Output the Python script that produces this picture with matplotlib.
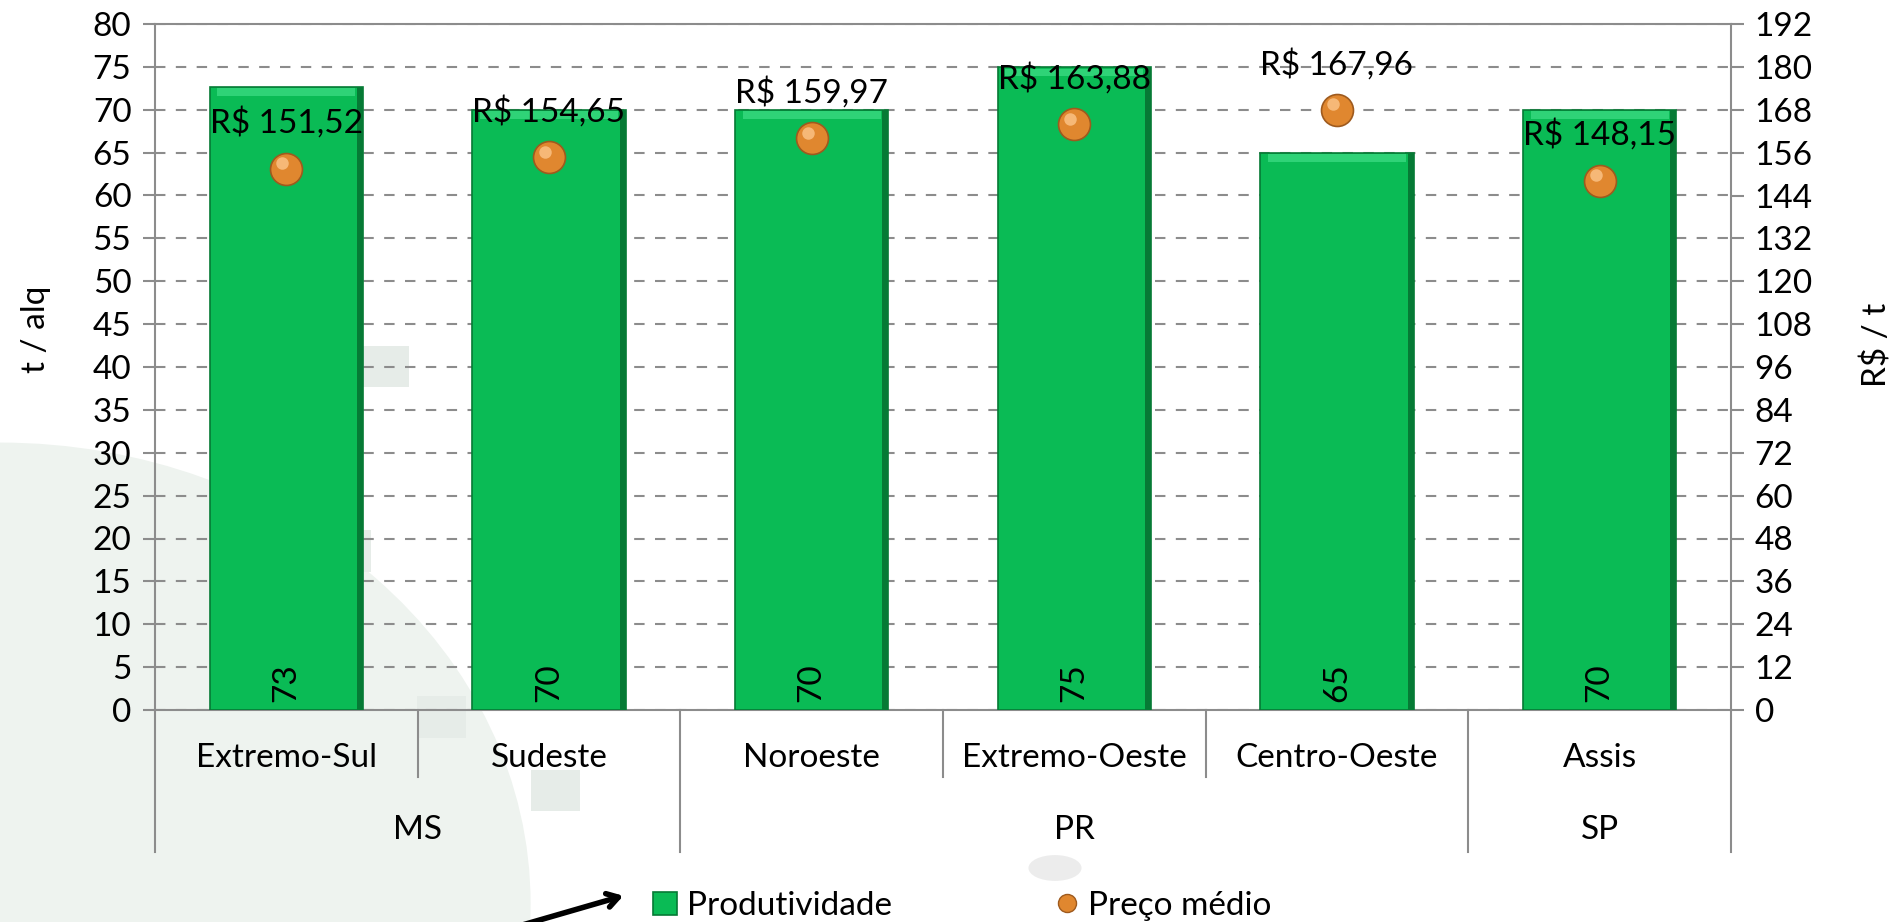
import matplotlib
matplotlib.use('Agg')
import matplotlib.pyplot as plt
from matplotlib.patches import Patch, Ellipse, Rectangle, Circle
from matplotlib.lines import Line2D
import matplotlib.transforms as mtransforms
import numpy as np

plt.rcParams['font.family'] = ['Lato', 'DejaVu Sans']

# --- dados ---
regioes = ['Extremo-Sul', 'Sudeste', 'Noroeste', 'Extremo-Oeste', 'Centro-Oeste', 'Assis']
estados = ['MS', 'PR', 'SP']
estado_inicio = [0, 2, 5]
estado_fim = [2, 5, 6]
produtividade = [72.7, 70, 70, 75, 65, 70]
preco_medio = [151.52, 154.65, 159.97, 163.88, 167.96, 148.15]

VERDE = '#0ABB55'
VERDE_ESC = '#067A35'
LARANJA = '#E0872F'
CINZA = '#8C8C8C'
FS = 24

fig = plt.figure(figsize=(18.95, 9.22), dpi=100)

# marca d'agua de fundo (bem suave)
fig.patches.append(Ellipse((0.0, 0.02), 0.56, 1.0, transform=fig.transFigure,
                           facecolor='#eef3ef', edgecolor='none', zorder=-10))
for (qx, qy) in [(0.12, 0.47), (0.17, 0.38), (0.25, 0.30), (0.28, 0.12),
                 (0.22, 0.20), (0.12, 0.27), (0.19, 0.58)]:
    fig.patches.append(Rectangle((qx, qy), 0.026, 0.045, transform=fig.transFigure,
                                 facecolor='#e6ece8', edgecolor='none', zorder=-9))
fig.patches.append(Circle((1055 / 1895, 1 - 868 / 922), 0.014, transform=fig.transFigure,
                          facecolor='#ececec', edgecolor='none', zorder=-9))

ax = fig.add_axes([155 / 1895, 1 - 710 / 922, (1731 - 155) / 1895, (710 - 24) / 922])
ax.set_facecolor('none')
ax2 = ax.twinx()

x = np.arange(len(regioes))
largura = 0.585

ax.bar(x, produtividade, largura, color=VERDE, edgecolor=VERDE_ESC, linewidth=1.2, zorder=3)
# faixa clara no topo (efeito bisel)
ax.bar(x, [0.9] * len(x), largura * 0.9, bottom=[v - 1.1 for v in produtividade],
       color='#2FD377', edgecolor='none', zorder=4)
# borda direita escura
ax.bar(x + largura / 2 - 0.012, produtividade, 0.024, color=VERDE_ESC, edgecolor='none', zorder=4)

for xi, v in zip(x, produtividade):
    ax.annotate(f"{v:.0f}", (xi, 0), xytext=(0, 6), textcoords='offset points',
                rotation=90, ha='center', va='bottom', fontsize=FS, zorder=6)

ax.set_xlim(-0.5, len(regioes) - 0.5)
ax.set_ylim(0, 80)
ax.set_yticks(np.arange(0, 81, 5))
ax.yaxis.grid(True, color=CINZA, linestyle=(0, (5, 5)), linewidth=1.5, zorder=0)
ax.set_axisbelow(True)
ax.tick_params(axis='y', labelsize=FS, length=9, width=1.5, color=CINZA, pad=8)
ax.set_xticks([])
for s in ['left', 'bottom', 'top', 'right']:
    ax.spines[s].set_color(CINZA)
    ax.spines[s].set_linewidth(1.5)

ax2.set_ylim(0, 192)
ax2.set_yticks(np.arange(0, 193, 12))
ax2.tick_params(axis='y', labelsize=FS, length=9, width=1.5, color=CINZA, pad=8)
for s in ['left', 'bottom', 'top', 'right']:
    ax2.spines[s].set_visible(False)

ax2.plot(x, preco_medio, linestyle='none', marker='o', markersize=23,
         markerfacecolor=LARANJA, markeredgecolor='#9E5A1E', markeredgewidth=1.2, zorder=5)
realce = mtransforms.offset_copy(ax2.transData, fig=fig, x=-3, y=4, units='points')
ax2.plot(x, preco_medio, linestyle='none', marker='o', markersize=9,
         markerfacecolor='#F6B877', markeredgecolor='none', transform=realce, zorder=6)
for xi, p in zip(x, preco_medio):
    rotulo = f"R$ {p:.2f}".replace('.', ',')
    ax2.annotate(rotulo, (xi, p), xytext=(0, 33), textcoords='offset points',
                 ha='center', va='center', fontsize=FS, zorder=7)

# eixo de categorias em dois niveis
trans = mtransforms.blended_transform_factory(ax.transData, ax.transAxes)
y_cat = (710 - 777) / 686
y_est = (710 - 852) / 686
limites_estado = sorted(set(estado_inicio + estado_fim))
for b in range(len(regioes) + 1):
    y_fim = y_est if b in limites_estado else y_cat
    ax.plot([b - 0.5, b - 0.5], [0, y_fim], color=CINZA, lw=1.5, transform=trans, clip_on=False)
for xi, r in zip(x, regioes):
    ax.text(xi, (710 - 758) / 686, r, transform=trans, ha='center', va='center', fontsize=FS)
for e, i0, i1 in zip(estados, estado_inicio, estado_fim):
    ax.text((i0 + i1 - 1) / 2, (710 - 830) / 686, e, transform=trans,
            ha='center', va='center', fontsize=FS)

fig.text(36 / 1895, 1 - 329 / 922, 't / alq', rotation=90, ha='center', va='center', fontsize=FS)
fig.text(1877 / 1895, 1 - 345 / 922, 'R$ / t', rotation=90, ha='center', va='center', fontsize=FS)

handles = [Patch(facecolor=VERDE, edgecolor=VERDE_ESC, linewidth=1.2),
           Line2D([], [], linestyle='none', marker='o', markersize=13,
                  markerfacecolor=LARANJA, markeredgecolor='#9E5A1E')]
fig.legend(handles, ['Produtividade', 'Preço médio'], loc='center',
           bbox_to_anchor=(0.508, 1 - 906 / 922), ncol=2, frameon=False, fontsize=FS,
           handlelength=0.7, handleheight=0.7, handletextpad=0.3, columnspacing=4.9)

ax.annotate('', xy=(626, 922 - 895), xytext=(512, -6), xycoords='figure pixels',
            textcoords='figure pixels',
            arrowprops=dict(arrowstyle='->,head_length=0.8,head_width=0.5', lw=4, color='black'))

fig.savefig('out.png', dpi=100)
